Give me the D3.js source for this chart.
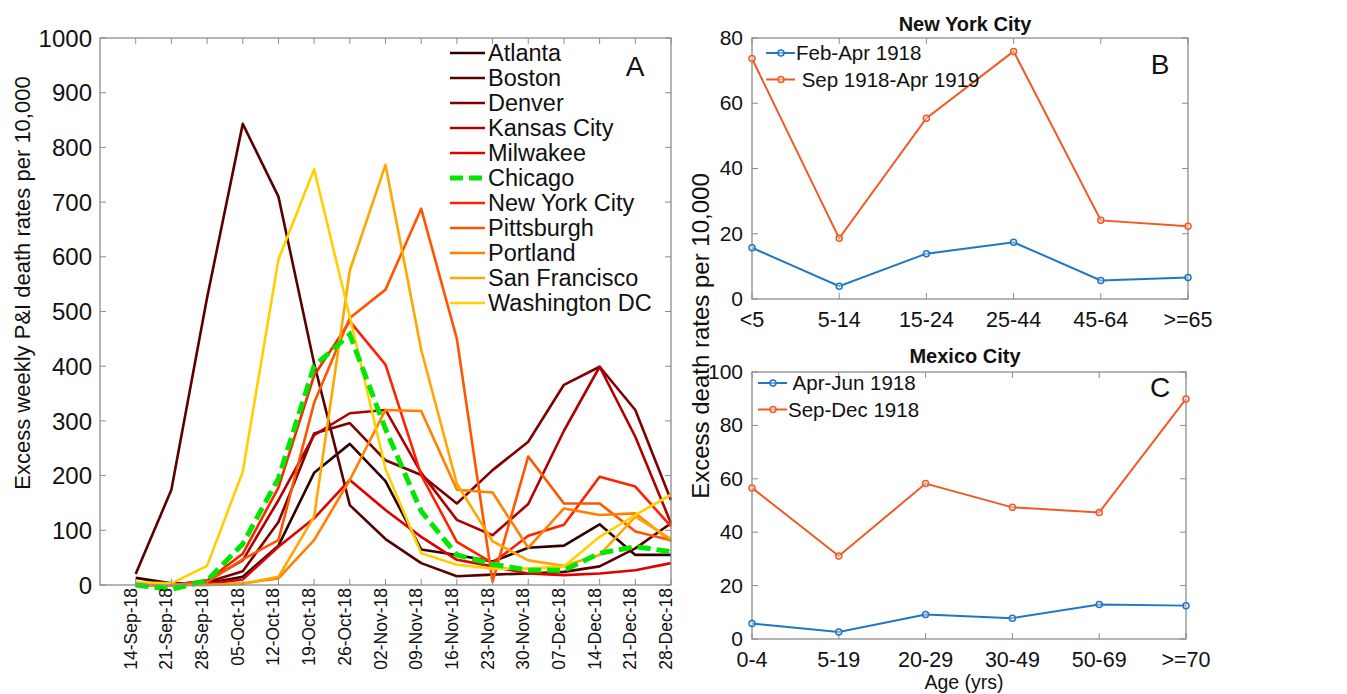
<!DOCTYPE html>
<html>
<head>
<meta charset="utf-8">
<script src="https://cdn.jsdelivr.net/npm/d3@7"></script>
<style>
  html, body { margin: 0; padding: 0; background: #fff; }
  svg text { font-family: "Liberation Sans", Arial, Helvetica, sans-serif; }
</style>
</head>
<body>
<svg id="chart" width="1347" height="694"></svg>
<script>
// ---------- Panel A data ----------
const weeks = ["14-Sep-18","21-Sep-18","28-Sep-18","05-Oct-18","12-Oct-18","19-Oct-18","26-Oct-18","02-Nov-18","09-Nov-18","16-Nov-18","23-Nov-18","30-Nov-18","07-Dec-18","14-Dec-18","21-Dec-18","28-Dec-18"];
const cities = ["Atlanta","Boston","Denver","Kansas City","Milwakee","Chicago","New York City","Pittsburgh","Portland","San Francisco","Washington DC"];
const cityColors = ["#300000","#5a0000","#7e0000","#b00000","#e00000","#00e800","#ff2200","#ff5500","#ff7f00","#ffa600","#ffcf00"];
const atlanta      = [13, 3, 3, 15, 72, 205, 258, 190, 65, 55, 43, 68, 72, 111, 55, 55];
const boston       = [20, 174, 525, 843, 710, 405, 146, 84, 40, 16, 19, 21, 24, 34, 67, 113];
const denver       = [2, 0, 5, 25, 115, 277, 296, 228, 201, 149, 210, 262, 366, 399, 320, 155];
const kansasCity   = [0, 0, 8, 45, 155, 274, 314, 320, 205, 119, 91, 148, 282, 399, 271, 113];
const milwakee     = [0, 0, 2, 10, 70, 122, 192, 137, 88, 46, 34, 21, 18, 21, 27, 40];
const chicago      = [0, -8, 8, 75, 195, 400, 458, 285, 135, 55, 38, 27, 27, 58, 70, 61];
const newYorkCity  = [0, 0, 8, 57, 178, 383, 482, 403, 201, 79, 40, 90, 110, 198, 180, 107];
const pittsburgh   = [0, 0, 5, 47, 82, 333, 488, 540, 688, 450, 6, 235, 149, 149, 98, 82];
const portland     = [0, 0, 0, 3, 12, 82, 192, 320, 318, 174, 169, 68, 140, 128, 131, 80];
const sanFrancisco = [0, 0, 0, 2, 15, 125, 575, 768, 430, 185, 80, 45, 35, 55, 125, 84];
const washingtonDC = [5, 3, 35, 207, 595, 760, 490, 212, 58, 37, 30, 30, 34, 88, 128, 165];
const citySeries = [atlanta, boston, denver, kansasCity, milwakee, chicago, newYorkCity, pittsburgh, portland, sanFrancisco, washingtonDC];
const yTicksA = [0,100,200,300,400,500,600,700,800,900,1000];

// ---------- Panel B data ----------
const agesNYC = ["<5","5-14","15-24","25-44","45-64",">=65"];
const nycSpring = [15.7, 3.9, 13.9, 17.4, 5.7, 6.6];
const nycFall   = [73.7, 18.6, 55.4, 75.9, 24.1, 22.3];
const seriesNamesB = ["Feb-Apr 1918", " Sep 1918-Apr 1919"];
const yTicksB = [0,20,40,60,80];

// ---------- Panel C data ----------
const agesMex = ["0-4","5-19","20-29","30-49","50-69",">=70"];
const mexSpring = [5.8, 2.6, 9.2, 7.8, 12.9, 12.5];
const mexFall   = [56.6, 31.1, 58.2, 49.3, 47.4, 89.9];
const seriesNamesC = [" Apr-Jun 1918", "Sep-Dec 1918"];
const yTicksC = [0,20,40,60,80,100];

const blue = "#1f77c4";
const orange = "#f05a24";
const axisCol = "#8c8c8c";

const svg = d3.select("#chart");

// ============ Panel A ============
const A = {l:100, r:671, t:38, b:585};
const xA = d3.scaleLinear().domain([-1, 15]).range([A.l, A.r]);
const yA = d3.scaleLinear().domain([0, 1000]).range([A.b, A.t]);
const gA = svg.append("g");

function drawBox(g, box, xTickPos, yTickPos, tickLen) {
  const t = g.append("g");
  xTickPos.forEach(p => {
    t.append("line").attr("x1", p).attr("x2", p).attr("y1", box.b).attr("y2", box.b - tickLen);
    t.append("line").attr("x1", p).attr("x2", p).attr("y1", box.t).attr("y2", box.t + tickLen);
  });
  yTickPos.forEach(p => {
    t.append("line").attr("x1", box.l).attr("x2", box.l + tickLen).attr("y1", p).attr("y2", p);
    t.append("line").attr("x1", box.r).attr("x2", box.r - tickLen).attr("y1", p).attr("y2", p);
  });
  t.selectAll("line").attr("stroke", axisCol).attr("stroke-width", 1);
  g.append("rect").attr("x", box.l).attr("y", box.t)
    .attr("width", box.r - box.l).attr("height", box.b - box.t)
    .attr("fill", "none").attr("stroke", axisCol).attr("stroke-width", 1.3);
}

// lines
const lineA = d3.line().x((d,i)=>xA(i)).y(d=>yA(d));
citySeries.forEach((s, k) => {
  if (k === 5) return;
  gA.append("path").datum(s).attr("d", lineA)
    .attr("fill","none").attr("stroke", cityColors[k]).attr("stroke-width", 2.6)
    .attr("stroke-linejoin","round");
});
gA.append("path").datum(chicago).attr("d", lineA)
  .attr("fill","none").attr("stroke", cityColors[5]).attr("stroke-width", 5)
  .attr("stroke-dasharray","13,6");

drawBox(gA, A, weeks.map((w,i)=>xA(i)), yTicksA.map(v=>yA(v)), 6);

// y tick labels
gA.selectAll("text.yt").data(yTicksA).join("text")
  .attr("x", A.l - 8).attr("y", d=>yA(d)).attr("dy","0.36em")
  .attr("text-anchor","end").attr("font-size", 24).attr("fill","#111").text(d=>d);
// x tick labels (rotated)
gA.selectAll("text.xt").data(weeks).join("text")
  .attr("transform", (d,i)=>`translate(${xA(i)+1},${A.b+3}) rotate(-90)`)
  .attr("text-anchor","end").attr("font-size", 17.5).attr("fill","#111").text(d=>d);
// y label
gA.append("text").attr("transform","translate(30,283) rotate(-90)")
  .attr("text-anchor","middle").attr("font-size", 22).attr("fill","#111")
  .text("Excess weekly P&I death rates per 10,000");
// legend
const legA = gA.append("g");
cities.forEach((c,k)=>{
  const y = 53 + k*25;
  legA.append("line").attr("x1", 450).attr("x2", k===5 ? 488 : 485).attr("y1", y).attr("y2", y)
    .attr("stroke", cityColors[k]).attr("stroke-width", k===5 ? 5 : 2.6)
    .attr("stroke-dasharray", k===5 ? "13,6" : null);
  legA.append("text").attr("x", 488).attr("y", y).attr("dy","0.36em")
    .attr("font-size", 23.5).attr("fill","#111").text(c);
});
gA.append("text").attr("x", 635).attr("y", 66).attr("dy","0.36em").attr("text-anchor","middle")
  .attr("font-size", 28).attr("fill","#111").text("A");

// ============ Panel B / C helper ============
function agePanel(box, cats, ymax, yTicks, s1, s2, names, title, titleY, letter, letterY, legY, legTextX, showXLabel) {
  const g = svg.append("g");
  const x = d3.scalePoint().domain(cats).range([box.l, box.r]).padding(0);
  const y = d3.scaleLinear().domain([0, ymax]).range([box.b, box.t]);
  drawBox(g, box, cats.map(c=>x(c)), yTicks.map(v=>y(v)), 6);
  const ln = d3.line().x((d,i)=>x(cats[i])).y(d=>y(d));
  [[s1, blue],[s2, orange]].forEach(([s,col])=>{
    g.append("path").datum(s).attr("d", ln).attr("fill","none")
      .attr("stroke", col).attr("stroke-width", 2);
    g.selectAll(null).data(s).join("circle")
      .attr("cx",(d,i)=>x(cats[i])).attr("cy", d=>y(d)).attr("r", 3)
      .attr("fill", "#fff").attr("fill-opacity",0.4).attr("stroke", col).attr("stroke-width", 1.5);
  });
  g.selectAll("text.yt").data(yTicks).join("text")
    .attr("x", box.l - 9).attr("y", d=>y(d)).attr("dy","0.33em")
    .attr("text-anchor","end").attr("font-size", 21).attr("fill","#111").text(d=>d);
  g.selectAll("text.xt").data(cats).join("text")
    .attr("x", d=>x(d)).attr("y", box.b + 20).attr("dy","0.36em")
    .attr("text-anchor","middle").attr("font-size", 21.5).attr("fill","#111").text(d=>d);
  g.append("text").attr("x", 965).attr("y", titleY)
    .attr("text-anchor","middle").attr("font-size", 20).attr("font-weight","bold")
    .attr("fill","#111").text(title);
  g.append("text").attr("x", 1160).attr("y", letterY).attr("dy","0.36em")
    .attr("text-anchor","middle").attr("font-size", 28).attr("fill","#111").text(letter);
  [[names[0], blue],[names[1], orange]].forEach(([nm,col],k)=>{
    const yy = legY + k*26.5;
    g.append("line").attr("x1", legTextX - 30).attr("x2", legTextX - 1).attr("y1", yy).attr("y2", yy)
      .attr("stroke", col).attr("stroke-width", 2);
    g.append("circle").attr("cx", legTextX - 15).attr("cy", yy).attr("r", 3)
      .attr("fill","#fff").attr("fill-opacity",0.4).attr("stroke", col).attr("stroke-width", 1.5);
    g.append("text").attr("x", legTextX).attr("y", yy).attr("dy","0.36em")
      .attr("font-size", 20.5).attr("fill","#111").attr("xml:space","preserve")
      .style("white-space","pre").text(nm);
  });
  if (showXLabel) {
    g.append("text").attr("x", 964).attr("y", 689)
      .attr("text-anchor","middle").attr("font-size", 19.5).attr("fill","#111").text("Age (yrs)");
  }
}

agePanel({l:752, r:1188, t:38, b:299}, agesNYC, 80, yTicksB, nycSpring, nycFall,
  seriesNamesB, "New York City", 31, "B", 64, 53, 796, false);
agePanel({l:752, r:1186, t:372, b:639}, agesMex, 100, yTicksC, mexSpring, mexFall,
  seriesNamesC, "Mexico City", 363, "C", 387, 383, 788, true);

svg.append("text").attr("transform","translate(709,336) rotate(-90)")
  .attr("text-anchor","middle").attr("font-size", 24).attr("fill","#111")
  .text("Excess death rates per 10,000");
</script>
</body>
</html>
